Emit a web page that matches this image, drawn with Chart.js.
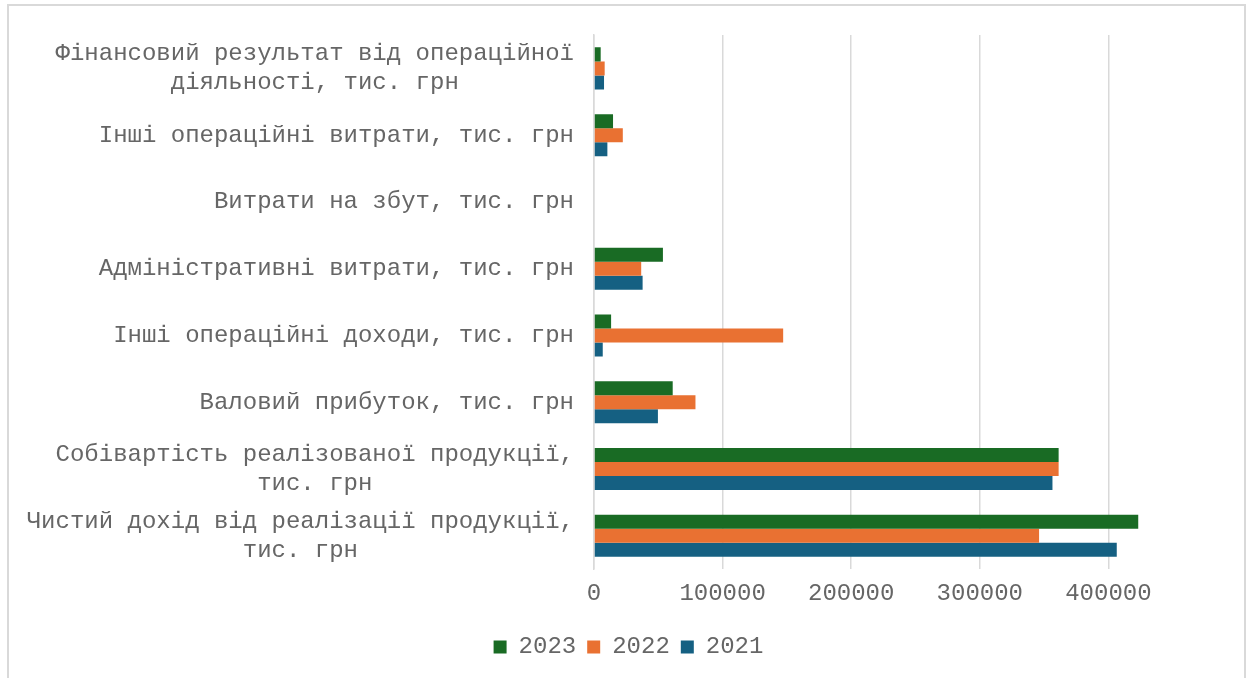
<!DOCTYPE html>
<html>
<head>
<meta charset="utf-8">
<script src="https://cdn.jsdelivr.net/npm/chart.js@4"></script>
<style>
  html, body { margin: 0; padding: 0; overflow: hidden; background: #fff; }
  #frame { position: absolute; left: 7px; top: 4px; width: 1235px; height: 720px; border: 2px solid #d9d9d9; }
  #wrap { position: absolute; left: 0; top: 0; width: 1247px; height: 678px; }
</style>
</head>
<body>
<div id="frame"></div>
<div id="wrap"><canvas id="barchart"></canvas></div>
<script>
// Категорії (зверху вниз, як на рисунку)
const categories = [
  ['Фінансовий результат від операційної', 'діяльності, тис. грн'],
  'Інші операційні витрати, тис. грн',
  'Витрати на збут, тис. грн',
  'Адміністративні витрати, тис. грн',
  'Інші операційні доходи, тис. грн',
  'Валовий прибуток, тис. грн',
  ['Собівартість реалізованої продукції,', 'тис. грн'],
  ['Чистий дохід від реалізації продукції,', 'тис. грн']
];
const years = ['2023', '2022', '2021'];
const values2023 = [5200, 14800, 0, 53600, 13300, 61200, 361300, 423200];
const values2022 = [8300, 22400, 0, 36700, 147100, 78900, 361300, 346100];
const values2021 = [7800, 10400, 0, 37800, 6800, 49700, 356500, 406500];
const xTicks = [0, 100000, 200000, 300000, 400000];

const colors = ['#196B24', '#E97132', '#156082'];
const textColor = '#666666';
const font = { family: '"Liberation Mono", "Courier New", monospace', size: 24 };

// моноширинний шрифт: доповнюємо коротші рядки пробілами, щоб вони були по центру
function centerLines(label) {
  if (!Array.isArray(label)) return label;
  const w = Math.max(...label.map(s => s.length));
  return label.map(s => s + ' '.repeat(Math.floor((w - s.length) / 2)));
}

const ctx = document.getElementById('barchart');

new Chart(ctx, {
  type: 'bar',
  data: {
    labels: categories.map(centerLines),
    datasets: [values2023, values2022, values2021].map((d, i) => ({
      label: years[i],
      data: d,
      backgroundColor: colors[i],
      borderWidth: 0,
      categoryPercentage: 0.63,
      barPercentage: 1.0
    }))
  },
  options: {
    indexAxis: 'y',
    responsive: true,
    maintainAspectRatio: false,
    animation: false,
    layout: { padding: { left: 20, right: 10, top: 35, bottom: 9 } },
    scales: {
      x: {
        min: 0,
        max: 500000,
        afterBuildTicks: (scale) => {
          scale.ticks = xTicks.map(v => ({ value: v }));
        },
        afterFit: (scale) => { scale.height += 6; },
        grid: { color: '#d9d9d9', lineWidth: 1.5, drawTicks: false },
        border: { display: false },
        ticks: {
          color: textColor, font: font, padding: 10, maxRotation: 0,
          callback: (v) => String(v)
        }
      },
      y: {
        afterFit: (scale) => {
          scale.width = 574;
          // підписи не повинні зсувати область графіка по вертикалі
          scale.paddingTop = 0;
          scale.paddingBottom = 0;
        },
        grid: { display: false, drawTicks: false },
        border: { color: '#d9d9d9', width: 1.5 },
        ticks: { color: textColor, font: font, padding: 20 }
      }
    },
    plugins: {
      legend: {
        position: 'bottom',
        labels: {
          color: textColor,
          font: font,
          boxWidth: 13,
          boxHeight: 13,
          padding: 11
        }
      },
      tooltip: { enabled: false }
    }
  }
});
</script>
</body>
</html>
